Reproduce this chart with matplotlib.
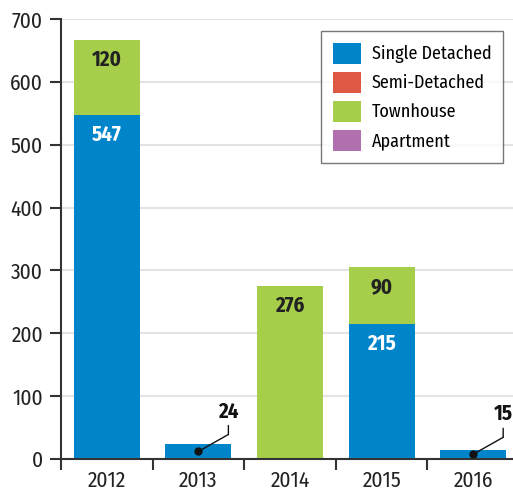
import numpy as np
import matplotlib
matplotlib.use("Agg")
from matplotlib import pyplot as plt
from matplotlib.transforms import offset_copy

plt.rcParams['font.family'] = ['Fira Sans Condensed', 'DejaVu Sans']

years = ['2012', '2013', '2014', '2015', '2016']
single_detached = [547, 24, 0, 215, 15]
semi_detached = [0, 0, 0, 0, 0]
townhouse = [120, 0, 276, 90, 0]
apartment = [0, 0, 0, 0, 0]

series = [
    ('Single Detached', single_detached, '#0085ca'),
    ('Semi-Detached', semi_detached, '#de5843'),
    ('Townhouse', townhouse, '#a7ce4b'),
    ('Apartment', apartment, '#b06fae'),
]
label_colors = {'Single Detached': 'white', 'Townhouse': '#222222'}

W, H = 513, 493
fig = plt.figure(figsize=(W / 100, H / 100), dpi=100)
ax = fig.add_axes([61 / W, 34 / H, (519 - 61) / W, (459 - 19) / H])

x = np.arange(len(years))
bottom = np.zeros(len(years))
for name, vals, color in series:
    vals = np.array(vals, dtype=float)
    ax.bar(x, vals, width=0.72, bottom=bottom, color=color, label=name, zorder=2)
    for i, v in enumerate(vals):
        if v >= 50:
            ax.annotate(str(int(v)), (x[i], bottom[i] + v), xytext=(0, -20),
                        textcoords='offset pixels', ha='center', va='center',
                        color=label_colors.get(name, 'white'),
                        fontsize=15, fontweight='bold')
        elif v > 0:
            # small bars: dot, leader line, value above
            px, py = x[i], bottom[i] + v / 2
            ax.plot(px, py, 'o', color='#111111', ms=5, zorder=4)
            ax.annotate('', (px, py), xytext=(30, 17), textcoords='offset pixels',
                        arrowprops=dict(arrowstyle='-', color='#111111', lw=1,
                                        shrinkA=0, shrinkB=0), zorder=4)
            elbow = offset_copy(ax.transData, fig=fig, x=30, y=17, units='dots')
            ax.annotate('', (px, py), xycoords=elbow, xytext=(0, 9),
                        textcoords='offset pixels',
                        arrowprops=dict(arrowstyle='-', color='#111111', lw=1,
                                        shrinkA=0, shrinkB=0), zorder=4)
            ax.annotate(str(int(v)), (px, py), xytext=(30, 40),
                        textcoords='offset pixels', ha='center', va='center',
                        color='#111111', fontsize=15, fontweight='bold')
    bottom += vals

ax.set_xlim(-0.5, 4.5)
ax.set_ylim(0, 700)
ax.set_yticks(range(0, 701, 100))
ax.set_xticks(x)
ax.set_xticklabels(years)
ax.set_xticks(np.arange(-0.5, 5, 1), minor=True)
ax.tick_params(axis='x', which='major', length=0, pad=8, labelsize=15.5, colors='#222222')
ax.tick_params(axis='x', which='minor', length=8, width=1.5, color='#333333')
ax.tick_params(axis='y', length=8, width=1.5, color='#333333', labelsize=15.5,
               labelcolor='#222222', pad=5)
ax.grid(axis='y', color='#e3e3e3', lw=1.5, zorder=0)
for side in ['top', 'right']:
    ax.spines[side].set_visible(False)
for side in ['left', 'bottom']:
    ax.spines[side].set_color('#333333')
    ax.spines[side].set_linewidth(1.5)

leg = ax.legend(loc='upper right', bbox_to_anchor=((503 - 61) / (519 - 61), 1 - 12 / 440),
                fontsize=13, frameon=True, fancybox=False, edgecolor='#555555',
                handlelength=1.55, handleheight=1.45, borderpad=0.65, labelspacing=0.42,
                handletextpad=0.6, borderaxespad=0)
leg.get_frame().set_linewidth(1)

fig.savefig('out.png', dpi=100)
